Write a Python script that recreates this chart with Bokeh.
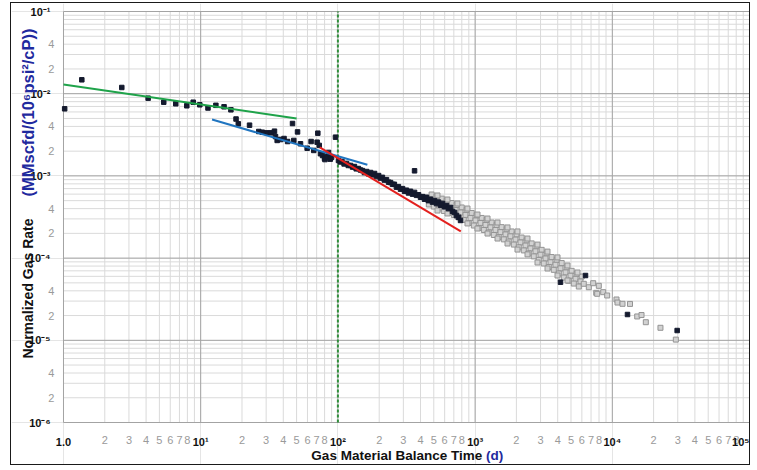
from bokeh.plotting import figure
from bokeh.models import Range1d, FixedTicker, Label, LogAxis
from bokeh.embed import file_html
from bokeh.resources import INLINE
import math

# ---------------- data ----------------
early_x = [1.02, 1.36, 2.66, 4.14, 5.38, 6.58, 7.92, 8.82, 9.85, 11.3, 12.9, 14.8, 16.6,
           18.1, 18.8, 22.7, 26.5, 28.1, 30.5, 32.8, 34.5, 35.1, 36.1, 38.2, 40.5, 43.0,
           46.7, 47.7, 50.8, 53.4, 59.7, 63.8, 66.7, 70.6, 71.4, 73.1, 74.7, 77.3, 79.9,
           80.5, 82.6, 84.0, 85.4, 88.0, 90.0, 96.1]
early_y = [0.00655, 0.01476, 0.0119, 0.00882, 0.00788, 0.00754, 0.00713, 0.00788, 0.00733,
           0.0067, 0.00722, 0.00693, 0.00637, 0.00492, 0.0043, 0.00414, 0.00347, 0.0034,
           0.00334, 0.00334, 0.0035, 0.00301, 0.0027, 0.00277, 0.00285, 0.00262, 0.00434,
           0.0027, 0.00343, 0.00246, 0.00217, 0.00262, 0.00204, 0.00257, 0.00331, 0.00235,
           0.00186, 0.00177, 0.00163, 0.00158, 0.00167, 0.00172, 0.00193, 0.0016, 0.00168,
           0.00296]

band_x = [101, 104, 107, 111, 115.5, 119, 123.6, 128, 132, 136, 141, 146, 151, 156, 162,
          167, 173, 179, 185, 191, 198, 204, 211, 218, 226, 234, 242, 250, 258, 267, 276,
          286, 296, 306, 316, 327, 338, 350, 362, 374, 387, 400, 414, 428, 442, 457, 473,
          489, 506, 523, 541, 560, 579, 599, 619, 640, 662, 685, 708, 730, 757, 783, 362]
band_y = [0.00154, 0.00148, 0.0015, 0.0014, 0.00142, 0.00134, 0.00134, 0.00128, 0.0013,
          0.00122, 0.00123, 0.00118, 0.00116, 0.0011, 0.00113, 0.00106, 0.0011, 0.00103,
          0.00107, 0.00098, 0.00101, 0.00094, 0.00096, 0.00089, 0.0009, 0.00084, 0.00083,
          0.00079, 0.00079, 0.00073, 0.00074, 0.00069, 0.0007, 0.00065, 0.00067, 0.00062,
          0.00065, 0.0006, 0.00063, 0.00058, 0.00059, 0.00055, 0.00056, 0.00052, 0.00055,
          0.0005, 0.00052, 0.00048, 0.0005, 0.00046, 0.00048, 0.00044, 0.000462, 0.00042,
          0.000436, 0.0004, 0.000413, 0.00037, 0.000359, 0.00033, 0.000314, 0.000287,
          0.001153]

late_black_x = [4193, 6378, 12905, 29700]
late_black_y = [5.09e-5, 6.14e-5, 2.06e-5, 1.315e-5]

gray_x = [482, 473, 460, 524, 514, 500, 571, 560, 544, 621, 609, 592, 675, 662, 643,
          734, 720, 700, 799, 783, 761, 868, 851, 827, 945, 926, 900, 1027, 1007, 979,
          1117, 1095, 1064, 1215, 1191, 1158, 1321, 1295, 1259, 1436, 1408, 1369,
          1562, 1531, 1488, 1699, 1666, 1619, 1847, 1811, 1760, 2009, 1970, 1915,
          2185, 2142, 2082, 2376, 2329, 2264, 2584, 2533, 2462, 2809, 2754, 2677,
          3056, 2996, 2912, 3323, 3258, 3167, 3615, 3544, 3445, 3931, 3854, 3746,
          4277, 4193, 4076, 4651, 4560, 4432, 5058, 4959, 4820, 5501, 5393, 5242,
          5981, 5864, 5700,
          532, 532, 629, 629, 744, 744, 880, 880, 1041, 1041, 1232, 1232, 1457, 1457,
          1723, 1723, 2037, 2037, 2410, 2410, 2850, 2850, 3371, 3371, 3987, 3987,
          4716, 4716, 5578,
          6196, 6743, 7258, 7633, 7974, 8584, 9180, 7760, 10730, 10910, 11870, 13460,
          15190, 16330, 17550, 22440, 29040]
gray_y = [5.94e-4, 5.16e-4, 4.49e-4, 5.62e-4, 4.88e-4, 4.24e-4, 5.3e-4, 4.62e-4, 4.01e-4,
          4.95e-4, 4.3e-4, 3.74e-4, 4.68e-4, 4.07e-4, 3.54e-4, 4.43e-4, 3.85e-4, 3.35e-4,
          4.13e-4, 3.59e-4, 3.12e-4, 3.85e-4, 3.35e-4, 2.91e-4, 3.54e-4, 3.08e-4, 2.67e-4,
          3.3e-4, 2.87e-4, 2.49e-4, 3.08e-4, 2.68e-4, 2.32e-4, 2.91e-4, 2.53e-4, 2.2e-4,
          2.71e-4, 2.36e-4, 2.05e-4, 2.53e-4, 2.2e-4, 1.91e-4, 2.38e-4, 2.07e-4, 1.8e-4,
          2.24e-4, 1.94e-4, 1.69e-4, 2.11e-4, 1.84e-4, 1.59e-4, 1.94e-4, 1.68e-4, 1.46e-4,
          1.78e-4, 1.55e-4, 1.35e-4, 1.64e-4, 1.42e-4, 1.24e-4, 1.51e-4, 1.31e-4, 1.14e-4,
          1.39e-4, 1.21e-4, 1.05e-4, 1.26e-4, 1.1e-4, 9.5e-5, 1.14e-4, 9.9e-5, 8.6e-5,
          1.03e-4, 8.9e-5, 7.8e-5, 9.5e-5, 8.3e-5, 7.2e-5, 8.7e-5, 7.5e-5, 6.5e-5,
          7.7e-5, 6.7e-5, 5.8e-5, 7.0e-5, 6.1e-5, 5.3e-5, 6.4e-5, 5.6e-5, 4.9e-5,
          5.97e-5, 5.19e-5, 4.51e-5,
          5.78e-4, 3.79e-4, 5.16e-4, 3.49e-4, 4.62e-4, 3.21e-4, 4.01e-4, 2.64e-4,
          3.39e-4, 2.29e-4, 3.03e-4, 1.99e-4, 2.71e-4, 1.73e-4, 2.36e-4, 1.505e-4,
          2.11e-4, 1.27e-4, 1.73e-4, 1.11e-4, 1.46e-4, 8.84e-5, 1.2e-4, 7.47e-5,
          1.02e-4, 6.14e-5, 8.13e-5, 5.34e-5, 6.68e-5,
          4.87e-5, 4.42e-5, 4.95e-5, 3.78e-5, 4.6e-5, 3.85e-5, 3.51e-5, 3.68e-5, 3.135e-5,
          2.88e-5, 2.78e-5, 2.77e-5, 1.95e-5, 2.03e-5, 1.66e-5, 1.42e-5, 1.02e-5]

green_x = [1.0, 50.0]
green_y = [0.0129, 0.0050]
blue_x = [12.1, 164.0]
blue_y = [0.00485, 0.001365]
red_x = [73.8, 787.0]
red_y = [0.00223, 0.000212]
divider_x = 100.0

x_decades = [1, 10, 100, 1000, 10000, 100000]
x_decade_labels = ["1.0", "10¹", "10²", "10³", "10⁴", "10⁵"]
x_minor_digits = [2, 3, 4, 5, 6, 7, 8]
y_decades = [1e-6, 1e-5, 1e-4, 1e-3, 1e-2, 1e-1]
y_decade_labels = ["10⁻⁶", "10⁻⁵", "10⁻⁴", "10⁻³", "10⁻²", "10⁻¹"]
y_minor_digits = [2, 4]
grid_digits = [2, 3, 4, 5, 6, 7, 8, 9]

x_title = "Gas Material Balance Time"
x_title_unit = "(d)"
y_title = "Normalized Gas Rate"
y_title_unit = "(MMscfd/(10⁶psi²/cP))"

FONT = "Liberation Sans"
XMIN, XMAX = x_decades[0], x_decades[-1]
YMIN, YMAX = y_decades[0], y_decades[-1]

# ---------------- figure ----------------
# the frame covers the whole canvas; the plotting box 1..1e5 x 1e-6..1e-1 sits inside it
p = figure(width=740, height=463, x_axis_type="log", y_axis_type="log",
           x_axis_location=None, y_axis_location=None,
           x_range=Range1d(0.4179, 103413), y_range=Range1d(2.9155e-7, 0.12514),
           output_backend="svg", toolbar_location=None, min_border=0)
p.styles = {"margin-left": "10px", "margin-top": "2px", "border": "1px solid #1a1a1a"}
p.background_fill_color = "white"
p.border_fill_color = "white"
p.outline_line_color = None

# grid lines (limited to the plotting box)
x_minor_grid = [d * k for d in x_decades[:-1] for k in grid_digits]
y_minor_grid = [d * k for d in y_decades[:-1] for k in grid_digits]
p.segment(x0=x_minor_grid, x1=x_minor_grid, y0=[YMIN] * len(x_minor_grid),
          y1=[YMAX] * len(x_minor_grid), line_color="#dadada", line_width=1)
p.segment(x0=[XMIN] * len(y_minor_grid), x1=[XMAX] * len(y_minor_grid), y0=y_minor_grid,
          y1=y_minor_grid, line_color="#dadada", line_width=1)
p.segment(x0=x_decades, x1=x_decades, y0=[YMIN] * len(x_decades),
          y1=[YMAX] * len(x_decades), line_color="#a3a3a3", line_width=1)
p.segment(x0=[XMIN] * len(y_decades), x1=[XMAX] * len(y_decades), y0=y_decades,
          y1=y_decades, line_color="#a3a3a3", line_width=1)

# tick-label axes pinned to the box edges
x_ticks = [d * k for d in x_decades[:-1] for k in x_minor_digits]
x_tick_text = [str(k) for d in x_decades[:-1] for k in x_minor_digits]
y_ticks = [d * k for d in y_decades[:-1] for k in y_minor_digits]
y_tick_text = [str(k) for d in y_decades[:-1] for k in y_minor_digits]


def pinned_axis(ticks, texts, loc, color, style, standoff):
    ax = LogAxis(ticker=FixedTicker(ticks=ticks), fixed_location=loc)
    ax.major_label_overrides = dict(zip(ticks, texts))
    ax.axis_line_color = None
    ax.major_tick_line_color = None
    ax.minor_tick_line_color = None
    ax.major_label_text_color = color
    ax.major_label_text_font = FONT
    ax.major_label_text_font_size = "11px"
    ax.major_label_text_font_style = style
    ax.major_label_standoff = standoff
    return ax


p.add_layout(pinned_axis(x_ticks, x_tick_text, YMIN, "#9a9a9a", "normal", 7), "below")
p.add_layout(pinned_axis(x_decades, x_decade_labels, YMIN, "#111111", "bold", 7), "below")
p.add_layout(pinned_axis(y_ticks, y_tick_text, XMIN, "#9a9a9a", "normal", 3), "left")
p.add_layout(pinned_axis(y_decades, y_decade_labels, XMIN, "#111111", "bold", 7), "left")

# axis titles (screen units: from the canvas bottom-left)
p.add_layout(Label(x=470.7, y=11, x_units="screen", y_units="screen", text=x_title,
                   text_align="right", text_baseline="middle", text_font=FONT,
                   text_font_size="13.5px", text_font_style="bold", text_color="#111111"))
p.add_layout(Label(x=474.5, y=11, x_units="screen", y_units="screen", text=x_title_unit,
                   text_align="left", text_baseline="middle", text_font=FONT,
                   text_font_size="13.5px", text_font_style="bold", text_color="#1f2a9e"))
p.add_layout(Label(x=16, y=108, x_units="screen", y_units="screen", text=y_title,
                   angle=math.pi / 2, text_align="left", text_baseline="middle", text_font=FONT,
                   text_font_size="14px", text_font_style="bold", text_color="#111111"))
p.add_layout(Label(x=16, y=354, x_units="screen", y_units="screen", text=y_title_unit,
                   angle=math.pi / 2, text_align="center", text_baseline="middle",
                   text_font=FONT, text_font_size="16.5px", text_font_style="bold",
                   text_color="#1f2a9e"))

# divider
p.segment(x0=[divider_x], x1=[divider_x], y0=[YMIN], y1=[YMAX], line_color="#2f8f3a",
          line_width=2, line_dash="3 2")

# data
p.scatter(gray_x, gray_y, marker="square", size=5, fill_color="#d2d2d2",
          line_color="#949494", line_width=1)
p.scatter(early_x, early_y, marker="square", size=4.5, fill_color="#141a2e",
          line_color="#141a2e")
p.scatter(band_x, band_y, marker="square", size=4.5, fill_color="#141a2e",
          line_color="#141a2e")
p.scatter(late_black_x, late_black_y, marker="square", size=4.5, fill_color="#141a2e",
          line_color="#141a2e")

p.line(green_x, green_y, line_color="#1fa34a", line_width=2)
p.line(blue_x, blue_y, line_color="#2075c0", line_width=2)
p.line(red_x, red_y, line_color="#e3201e", line_width=2)

open("out.html", "w").write(file_html(p, INLINE))
